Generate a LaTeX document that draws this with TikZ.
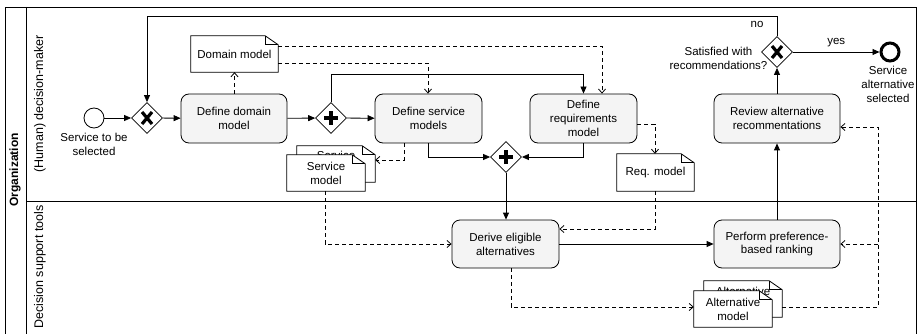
\documentclass[tikz,border=0pt]{standalone}
\usepackage{fontspec}
\setmainfont{Liberation Sans}
\usetikzlibrary{arrows.meta,shapes.geometric,calc}
\definecolor{taskfill}{HTML}{F4F4F4}
\tikzset{
  txt/.style={font=\fontsize{11.5}{13.8}\selectfont, align=center, inner sep=0pt},
  task/.style={draw, fill=taskfill, rounded corners=8pt, line width=0.8pt, inner sep=0pt,
     font=\fontsize{11.5}{13.8}\selectfont, align=center},
  gw/.style={diamond, draw, fill=white, line width=0.8pt, minimum size=31pt, inner sep=0pt},
  marker/.style={line width=3.2pt},
  flow/.style={line width=0.8pt, -{Triangle[length=7pt,width=6pt]}},
  assoc/.style={line width=0.8pt, dash pattern=on 4pt off 3pt, -{Straight Barb[length=4pt,width=7pt]}},
  docbox/.style={draw=none, inner sep=0pt},
  docline/.style={line width=0.8pt, fill=white},
  lanelbl/.style={font=\fontsize{12.5}{14}\selectfont, rotate=90, inner sep=0pt},
  pool/.style={line width=0.8pt}
}
\newcommand\gwX[1]{\draw[marker] ([shift={(-5pt,-6pt)}]#1.center) -- ([shift={(5pt,6pt)}]#1.center)
   ([shift={(-5pt,6pt)}]#1.center) -- ([shift={(5pt,-6pt)}]#1.center);}
\newcommand\gwP[1]{\draw[marker] ([yshift=-7pt]#1.center) -- ([yshift=7pt]#1.center)
   ([xshift=-7pt]#1.center) -- ([xshift=7pt]#1.center);}
\newcommand\docshape[6]{%
  \node[docbox, minimum width=#4, minimum height=#5] (#1) at (#2,#3) {};
  \filldraw[docline] (#1.north west) -- ([xshift=-13pt]#1.north east) -- ([yshift=-9pt]#1.north east)
     -- (#1.south east) -- (#1.south west) -- cycle;
  \draw[line width=0.8pt] ([xshift=-13pt]#1.north east) |- ([yshift=-9pt]#1.north east);
  \node[txt] (#1-t) at (#1.center) {#6};
}
\begin{document}
\begin{tikzpicture}[x=1pt, y=-1pt]
\useasboundingbox (0,0) rectangle (918,334);
% pool and lanes
\draw[pool] (5,334) -- (5,7) -- (916,7) -- (916,334);
\draw[pool] (26,7) -- (26,334);
\draw[pool] (26,201) -- (916,201);
\node[lanelbl, font=\fontsize{12}{14}\bfseries] (org) at (15,170) {Organization};
\node[lanelbl] (lane1) at (40,104) {(Human) decision-maker};
\node[lanelbl] (lane2) at (40,267) {Decision support tools};

% events and gateways
\node[circle, draw, line width=0.8pt, minimum size=20pt, inner sep=0pt] (start) at (94,118) {};
\node[txt, anchor=north] (startlbl) at (94,133) {Service to be\\selected};
\node[gw] (gw1) at (147,118) {}; \gwX{gw1}
\node[gw] (pgw1) at (331,118) {}; \gwP{pgw1}
\node[gw] (pgw2) at (506,157) {}; \gwP{pgw2}
\node[gw] (gw3) at (777,52) {}; \gwX{gw3}
\node[circle, draw, line width=3pt, minimum size=18pt, inner sep=0pt] (end) at (890,52) {};
\node[txt, anchor=north] (endlbl) at (888,66) {Service\\alternative\\selected};
\node[txt] (satlbl) at (718.5,58.5) {Satisfied with\\recommendations?};

% tasks
\node[task, minimum width=106pt, minimum height=49pt] (ddm) at (234,118.5) {Define domain\\model};
\node[task, minimum width=107pt, minimum height=49pt] (svc) at (428.5,118.5) {Define service\\models};
\node[task, minimum width=107pt, minimum height=49pt] (req) at (583.5,118.5) {Define\\requirements\\model};
\node[task, minimum width=107pt, minimum height=48pt] (derive) at (505.5,244) {Derive eligible\\alternatives};
\node[task, minimum width=126pt, minimum height=48pt] (perform) at (777,244) {Perform preference-\\based ranking};
\node[task, minimum width=126pt, minimum height=49pt] (review) at (777,118.5) {Review alternative\\recommentations};

% documents
\docshape{domdoc}{234.5}{54}{87pt}{36pt}{Domain model}
\docshape{svcback}{336}{164}{78pt}{36pt}{}
\node[txt] (svcback-l) at (336,155.5) {Service};
\docshape{svcdoc}{326}{173}{78pt}{36pt}{Service\\model}
\docshape{reqdoc}{655.5}{172.5}{77pt}{37pt}{Req. model}
\docshape{altback}{743}{299}{78pt}{36pt}{}
\node[txt] (altback-l) at (743,291.5) {Alternative};
\docshape{altdoc}{733}{309}{78pt}{36pt}{Alternative\\model}

% sequence flows
\draw[flow] (start) -- (gw1);
\draw[flow] (gw1) -- (ddm);
\draw[flow] (ddm) -- (pgw1);
\draw[flow] (pgw1) -- (svc);
\draw[flow] (pgw1.north) |- ([yshift=19pt]req.north) -- (req.north);
\draw[flow] (svc.south) |- (pgw2.west);
\draw[flow] (req.south) |- (pgw2.east);
\draw[flow] (pgw2.south) -- (derive.north -| pgw2.south);
\draw[flow] (derive) -- (perform);
\draw[flow] (perform) -- (review);
\draw[flow] (review) -- (gw3);
\draw[flow] (gw3) -- node[txt, above=5pt, pos=0.5] (yeslbl) {yes} (end);
\coordinate (loopR) at (777,16);
\coordinate (loopL) at (147,16);
\draw[flow] (gw3.north) -- (loopR) -- (loopL) -- (gw1.north);
\node[txt] (nolbl) at (757,24) {no};

% associations
\draw[assoc] (ddm.north -| domdoc.south) -- (domdoc.south);
\coordinate (a1) at (602,46);
\draw[assoc] (domdoc.east |- a1) -- (a1) -- (a1 |- req.north);
\coordinate (a2) at (428,63);
\draw[assoc] (domdoc.east |- a2) -- (a2) -- (a2 |- svc.north);
\coordinate (a3) at (404,160);
\draw[assoc] (a3 |- svc.south) -- (a3) -- (a3 -| svcback.east);
\coordinate (a4) at (655,124);
\draw[assoc] (req.east |- a4) -- (a4) -- (a4 |- reqdoc.north);
\coordinate (a5) at (655,229);
\draw[assoc] (a5 |- reqdoc.south) -- (a5) -- (a5 -| derive.east);
\coordinate (a6) at (325,244);
\draw[assoc] (a6 |- svcdoc.south) -- (a6) -- (a6 -| derive.west);
\coordinate (a7) at (511,307);
\draw[assoc] (a7 |- derive.south) -- (a7) -- (a7 -| altdoc.west);
\coordinate (a8) at (878,307);
\coordinate (a9) at (878,127);
\coordinate (a10) at (878,244);
\draw[assoc] (a8 -| altback.east) -- (a8) -- (a9) -- (a9 -| review.east);
\draw[assoc] (a10) -- (a10 -| perform.east);
\end{tikzpicture}
\end{document}
